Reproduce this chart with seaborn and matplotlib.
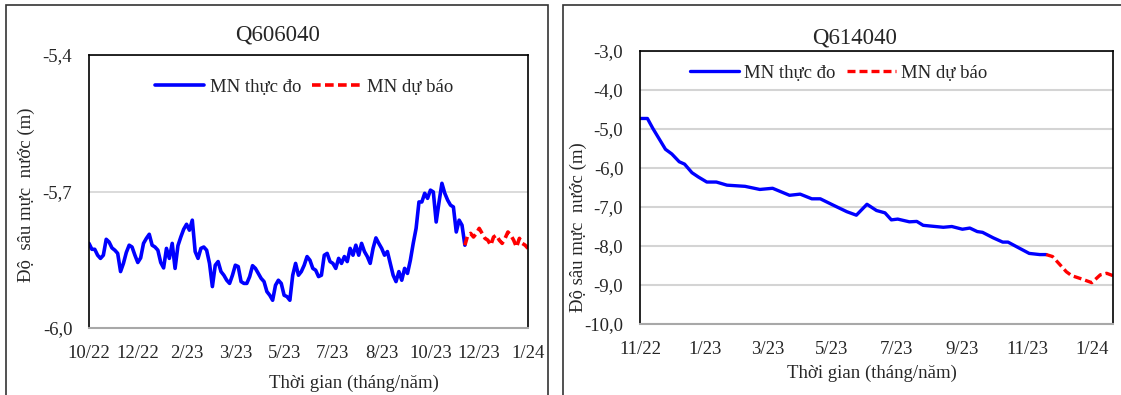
import pandas as pd
import matplotlib
matplotlib.use("Agg")
import matplotlib.pyplot as plt
from matplotlib.patches import Rectangle
from matplotlib.ticker import FuncFormatter
import seaborn as sns

# --- data ---
# Q606040: samples every 3 days from 28/10/2022
left_start = "2022-10-28"
left_obs = [
    -5.814, -5.827, -5.827, -5.840, -5.847, -5.840, -5.805, -5.811, -5.824, -5.829,
    -5.836, -5.876, -5.858, -5.834, -5.818, -5.822, -5.840, -5.856, -5.846, -5.814,
    -5.803, -5.794, -5.818, -5.822, -5.829, -5.856, -5.868, -5.825, -5.847, -5.814,
    -5.869, -5.819, -5.800, -5.783, -5.772, -5.785, -5.763, -5.832, -5.847, -5.825,
    -5.822, -5.829, -5.858, -5.909, -5.862, -5.854, -5.876, -5.884, -5.895, -5.902,
    -5.884, -5.862, -5.865, -5.898, -5.902, -5.902, -5.887, -5.863, -5.869, -5.880,
    -5.891, -5.898, -5.920, -5.928, -5.939, -5.906, -5.895, -5.902, -5.928, -5.931,
    -5.939, -5.884, -5.858, -5.884, -5.876, -5.862, -5.843, -5.851, -5.869, -5.873,
    -5.887, -5.884, -5.840, -5.836, -5.854, -5.858, -5.869, -5.847, -5.858, -5.843,
    -5.854, -5.825, -5.840, -5.818, -5.840, -5.814, -5.832, -5.843, -5.858, -5.825,
    -5.802, -5.814, -5.825, -5.840, -5.832, -5.858, -5.884, -5.898, -5.876, -5.895,
    -5.869, -5.880, -5.851, -5.814, -5.781, -5.723, -5.723, -5.704, -5.715, -5.697,
    -5.701, -5.767, -5.723, -5.682, -5.704, -5.719, -5.730, -5.734, -5.789, -5.763,
    -5.774, -5.818,
]
left_fc = [
    -5.818, -5.796, -5.792, -5.800, -5.792, -5.781, -5.792, -5.803, -5.807, -5.818,
    -5.800, -5.796, -5.807, -5.814, -5.803, -5.789, -5.796, -5.807, -5.822, -5.803,
    -5.814, -5.818, -5.825,
]
left_ticklabels = ["10/22", "12/22", "2/23", "3/23", "5/23", "7/23", "8/23", "10/23", "12/23", "1/24"]

# Q614040
right_obs_dates = [
    "2022-11-01", "2022-11-08", "2022-11-13", "2022-11-25", "2022-12-01", "2022-12-08",
    "2022-12-13", "2022-12-20", "2022-12-26", "2023-01-03", "2023-01-12", "2023-01-22",
    "2023-02-08", "2023-02-22", "2023-03-06", "2023-03-22", "2023-04-01", "2023-04-12",
    "2023-04-20", "2023-05-02", "2023-05-15", "2023-05-24", "2023-06-03", "2023-06-12",
    "2023-06-20", "2023-06-26", "2023-07-02", "2023-07-13", "2023-07-20", "2023-07-26",
    "2023-08-14", "2023-08-22", "2023-09-01", "2023-09-08", "2023-09-15", "2023-09-20",
    "2023-09-30", "2023-10-09", "2023-10-14", "2023-10-25", "2023-11-03", "2023-11-13",
    "2023-11-19",
]
right_obs = [
    -4.73, -4.73, -4.98, -5.52, -5.64, -5.84, -5.90, -6.12, -6.23, -6.36,
    -6.36, -6.44, -6.47, -6.55, -6.52, -6.70, -6.67, -6.79, -6.79, -6.95,
    -7.12, -7.21, -6.93, -7.09, -7.15, -7.33, -7.31, -7.38, -7.37, -7.47,
    -7.52, -7.50, -7.57, -7.54, -7.63, -7.65, -7.79, -7.90, -7.90, -8.06,
    -8.19, -8.22, -8.22,
]
right_fc_dates = [
    "2023-11-19", "2023-11-25", "2023-12-08", "2023-12-13", "2023-12-23",
    "2024-01-01", "2024-01-09", "2024-01-15", "2024-01-21",
]
right_fc = [-8.22, -8.27, -8.66, -8.76, -8.85, -8.94, -8.74, -8.70, -8.76]
right_ticks = ["2022-11-01", "2023-01-01", "2023-03-01", "2023-05-01", "2023-07-01",
               "2023-09-01", "2023-11-01", "2024-01-01"]
right_ticklabels = ["11/22", "1/23", "3/23", "5/23", "7/23", "9/23", "11/23", "1/24"]

# --- style ---
sns.set_style("white")
plt.rcParams["font.family"] = ["Liberation Serif", "DejaVu Serif"]
FS = 13.5

W, H = 1121, 395
fig = plt.figure(figsize=(W / 100, H / 100), dpi=100)

# outer frames of the two panels
fig.add_artist(Rectangle((6 / W, -0.05), (548 - 6) / W, 1.05 - 5 / H,
                         transform=fig.transFigure, fill=False, ec="#333333", lw=1.2))
fig.add_artist(Rectangle((563 / W, -0.05), 0.5, 1.05 - 5 / H,
                         transform=fig.transFigure, fill=False, ec="#333333", lw=1.2))

ax1 = fig.add_axes([89 / W, 1 - 328 / H, (528 - 89) / W, (328 - 55) / H])
ax2 = fig.add_axes([640 / W, 1 - 324 / H, (1113 - 640) / W, (324 - 51) / H])

comma = FuncFormatter(lambda v, p: f"{v:.1f}".replace(".", ","))
red_dash = (0, (2.4, 1.2))

# left panel
ldates = pd.date_range(left_start, periods=len(left_obs) + len(left_fc) - 1, freq="3D")
sns.lineplot(x=ldates[:len(left_obs)], y=left_obs, ax=ax1, color="#0000ff", lw=2.6,
             label="MN thực đo")
sns.lineplot(x=ldates[len(left_obs) - 1:], y=left_fc, ax=ax1, color="#ff0000", lw=2.6,
             linestyle=red_dash, label="MN dự báo")
ax1.set_xlim(ldates[0], ldates[-1])
ax1.set_ylim(-6.0, -5.4)
ax1.set_yticks([-6.0, -5.7, -5.4])
lticks = pd.date_range(left_start, periods=len(left_ticklabels), freq="51D")
ax1.set_xticks(lticks)
ax1.set_xticklabels(left_ticklabels)
ax1.tick_params(axis="x", length=0, pad=12, labelsize=FS)
ax1.tick_params(axis="y", length=0, pad=12, labelsize=FS)
ax1.yaxis.grid(True, color="#d4d4d4", lw=1.2)
ax1.set_xlabel("Thời gian (tháng/năm)", fontsize=FS)
ax1.xaxis.set_label_coords(0.604, -0.17)
ax1.set_ylabel("Độ  sâu mực  nước (m)", fontsize=FS)
ax1.yaxis.set_label_coords(-0.122, 0.487)
fig.text(278 / W, 1 - 35 / H, "Q606040", fontsize=16.5, ha="center", va="center")
ax1.legend(loc="center", bbox_to_anchor=(0.49, 0.883), ncol=2, frameon=False,
           fontsize=FS, handlelength=2.6, columnspacing=0.6, handletextpad=0.3)

# right panel
sns.lineplot(x=pd.to_datetime(right_obs_dates), y=right_obs, ax=ax2, color="#0000ff",
             lw=2.4, label="MN thực đo")
sns.lineplot(x=pd.to_datetime(right_fc_dates), y=right_fc, ax=ax2, color="#ff0000",
             lw=2.4, linestyle=red_dash, label="MN dự báo")
ax2.set_xlim(pd.Timestamp(right_ticks[0]), pd.Timestamp(right_fc_dates[-1]))
ax2.set_ylim(-10.0, -3.0)
ax2.set_yticks(range(-10, -2))
ax2.set_xticks(pd.to_datetime(right_ticks))
ax2.set_xticklabels(right_ticklabels)
ax2.tick_params(axis="x", length=4, color="#c8c8c8", width=1, pad=8, labelsize=FS)
ax2.tick_params(axis="y", length=0, pad=12, labelsize=FS)
ax2.yaxis.grid(True, color="#d4d4d4", lw=1.5)
ax2.set_xlabel("Thời gian (tháng/năm)", fontsize=FS)
ax2.xaxis.set_label_coords(0.49, -0.15)
ax2.set_ylabel("Độ sâu mực  nước (m)", fontsize=FS)
ax2.yaxis.set_label_coords(-0.112, 0.355)
fig.text(855 / W, 1 - 38 / H, "Q614040", fontsize=16.5, ha="center", va="center")
ax2.legend(loc="center", bbox_to_anchor=(0.42, 0.919), ncol=2, frameon=False,
           fontsize=FS, handlelength=2.6, columnspacing=0.6, handletextpad=0.3)

for ax in (ax1, ax2):
    ax.yaxis.set_major_formatter(comma)
    for side in ("left", "top", "right"):
        ax.spines[side].set_color("black")
        ax.spines[side].set_linewidth(1.2)
    ax.spines["bottom"].set_color("#a8a8a8")
    ax.spines["bottom"].set_linewidth(1.5)

fig.savefig("out.png", dpi=100)
